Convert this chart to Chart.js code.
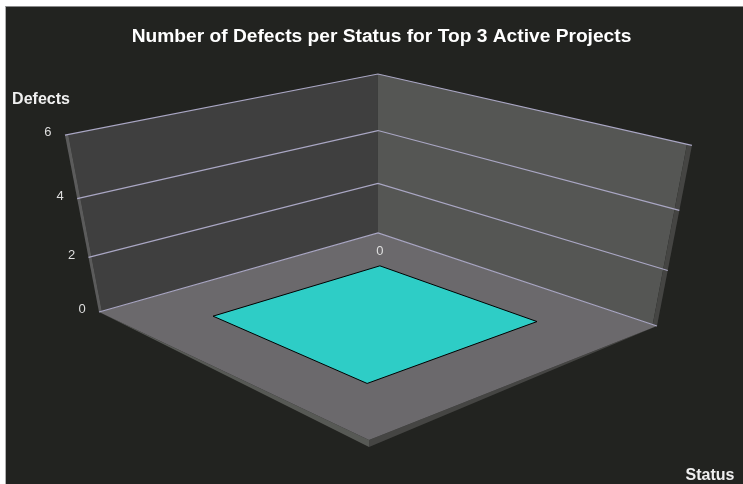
<!DOCTYPE html>
<html>
<head>
<meta charset="utf-8">
<title>Number of Defects per Status</title>
<script src="https://cdn.jsdelivr.net/npm/chart.js@4"></script>
<style>
  html, body { margin: 0; background: #fff; }
  #panel { position: absolute; left: 5px; top: 6px; width: 738px; height: 478px; box-sizing: border-box;
           background: #222320; border-top: 1px solid #8a8a8a; border-left: 1px solid #b0b0b0; }
  canvas { position: absolute; left: 0; top: 0; }
</style>
</head>
<body>
<div id="panel"></div>
<canvas id="defectChart" width="743" height="484"></canvas>
<script>
const chartTitle = 'Number of Defects per Status for Top 3 Active Projects';
const xAxisTitle = 'Status';
const yAxisTitle = 'Defects';
const statusCategories = ['Status'];
const defectCounts = [0];
const defectTicks = [0, 2, 4, 6];
const maxDefects = 6;

// perspective camera: status runs 0..1, depth runs 0..1, height is defects / maxDefects
const cam = {
    x: [176.03, -292.25, -35.6, 378],
    y: [41.91, 37.24, -165.96, 233],
    w: [-0.15673, -0.13385, -0.094, 1]
};
const project = (u, v, defects) => {
    const h = defects / maxDefects;
    const dot = (m) => m[0] * u + m[1] * v + m[2] * h + m[3];
    const w = dot(cam.w);
    return { x: dot(cam.x) / w, y: dot(cam.y) / w };
};

const titlePadTop = 25;
const titlePadBottom = 6;
const titleSize = 19.2;
const padLeft = 20;

const shape = (color, pts, border) => ({
    data: pts.concat([pts[0]]),
    backgroundColor: color,
    fill: 'shape',
    borderColor: border || color,
    borderWidth: border ? 1 : 0,
    pointRadius: 0,
    tension: 0,
    clip: false
});
const line = (color, pts, width) => ({
    data: pts,
    borderColor: color,
    borderWidth: width,
    fill: false,
    pointRadius: 0,
    tension: 0,
    clip: false
});

const rightEdge = 0.987;   // wall end strips
const leftEdge = 0.991;
const slabDrop = -0.24;    // floor slab thickness at the front corner, in defects
const gridColor = '#aaa7c4';

const layers = [];
// floor slab sides
layers.push(shape('#575955', [project(0, 1, 0), project(1, 1, 0), project(1, 1, slabDrop)]));
layers.push(shape('#454543', [project(1, 0, 0), project(1, 1, 0), project(1, 1, slabDrop)]));
// floor
layers.push(shape('#6b696c', [project(0, 0, 0), project(1, 0, 0), project(1, 1, 0), project(0, 1, 0)]));
// left wall and its end strip
layers.push(shape('#3f3f3f', [project(0, 0, 0), project(0, leftEdge, 0), project(0, leftEdge, maxDefects), project(0, 0, maxDefects)]));
layers.push(shape('#5b5b5b', [project(0, leftEdge, 0), project(0, 1, 0), project(0, 1, maxDefects), project(0, leftEdge, maxDefects)]));
// right wall and its end strip
layers.push(shape('#555654', [project(0, 0, 0), project(rightEdge, 0, 0), project(rightEdge, 0, maxDefects), project(0, 0, maxDefects)]));
layers.push(shape('#454543', [project(rightEdge, 0, 0), project(1, 0, 0), project(1, 0, maxDefects), project(rightEdge, 0, maxDefects)]));
// grid lines on both walls
defectTicks.forEach((t) => {
    layers.push(line(gridColor, [project(0, 1, t), project(0, 0, t), project(1, 0, t)], 1.2));
});
// bars, one per status
const barU = [0.216, 0.783];
const barV = [0.203, 0.797];
statusCategories.forEach((name, i) => {
    const n = statusCategories.length;
    const u0 = (i + barU[0]) / n;
    const u1 = (i + barU[1]) / n;
    const top = defectCounts[i];
    layers.push(shape('#2ecdc6', [project(u0, barV[0], top), project(u1, barV[0], top), project(u1, barV[1], top), project(u0, barV[1], top)], '#000000'));
});

// tick, value and axis title text
const textPlugin = {
    id: 'boxText',
    afterDatasetsDraw(chart) {
        const { ctx, scales } = chart;
        const put = (txt, x, y, font, color) => {
            ctx.font = font;
            ctx.fillStyle = color;
            ctx.fillText(txt, x, y);
        };
        const at = (p) => ({ x: scales.x.getPixelForValue(p.x), y: scales.y.getPixelForValue(p.y) });
        ctx.save();
        ctx.textAlign = 'center';
        ctx.textBaseline = 'middle';
        const tickFont = '13px "Liberation Sans"';
        defectTicks.forEach((t) => {
            const p = at(project(0, 1, t));
            put(String(t), p.x - 17, p.y - 2.5, tickFont, '#dedede');
        });
        statusCategories.forEach((name, i) => {
            const p = at(project((i + barU[0]) / statusCategories.length, barV[0], defectCounts[i]));
            put(String(defectCounts[i]), p.x, p.y - 14, tickFont, '#dedede');
        });
        const axisFont = 'bold 16px "Liberation Sans"';
        put(yAxisTitle, 41, 100, axisFont, '#f0f0f0');
        put(xAxisTitle, 710, 476, axisFont, '#f0f0f0');
        ctx.restore();
    }
};

const titleHeight = titleSize * 1.2 + titlePadTop + titlePadBottom;

new Chart(document.getElementById('defectChart'), {
    type: 'line',
    data: { datasets: layers.slice().reverse() },
    options: {
        responsive: false,
        animation: false,
        layout: { padding: { left: padLeft, right: 0, top: 0, bottom: 0 } },
        scales: {
            x: { type: 'linear', display: false, min: padLeft, max: 743 },
            y: { type: 'linear', display: false, min: titleHeight, max: 484, reverse: true }
        },
        plugins: {
            legend: { display: false },
            tooltip: { enabled: false },
            title: {
                display: true,
                text: chartTitle,
                color: '#ffffff',
                font: { family: '"Liberation Sans"', size: titleSize, weight: 'bold' },
                padding: { top: titlePadTop, bottom: titlePadBottom }
            }
        }
    },
    plugins: [textPlugin]
});
</script>
</body>
</html>
